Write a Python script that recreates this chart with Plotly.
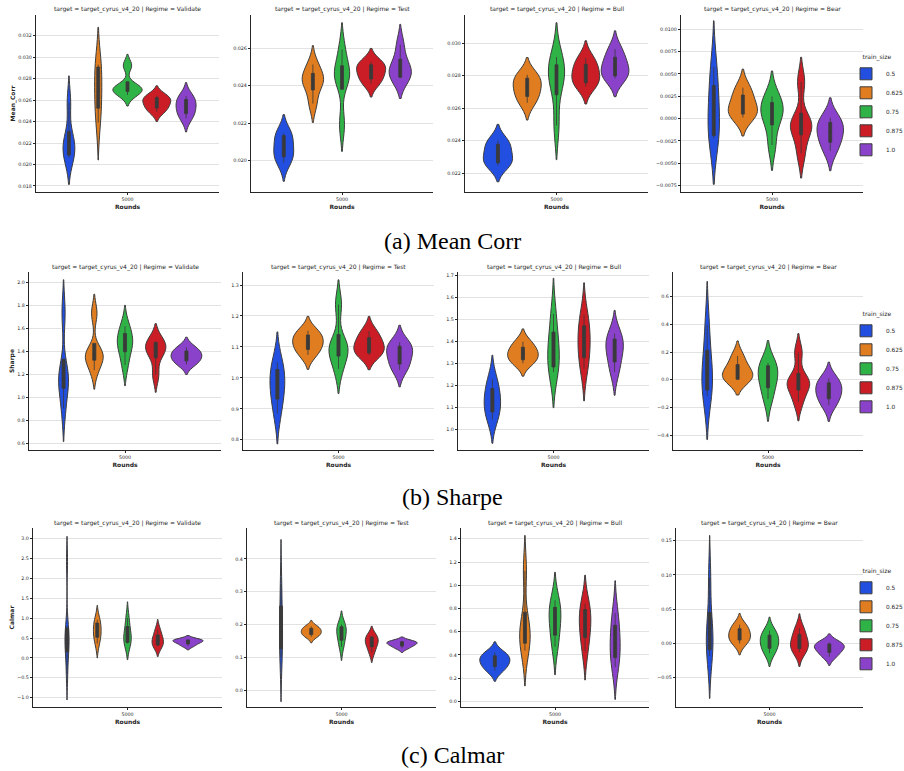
import plotly.graph_objects as go

# ---------------- data ----------------
ROUNDS = ["5000"]
TRAIN_SIZES = ["0.5", "0.625", "0.75", "0.875", "1.0"]
REGIMES = ["Validate", "Test", "Bull", "Bear"]
METRIC_LABELS = ["Mean_Corr", "Sharpe", "Calmar"]
CAPTIONS = ["(a) Mean Corr", "(b) Sharpe", "(c) Calmar"]
TARGET = "target_cyrus_v4_20"

# Mean_Corr samples per train_size (0.5, 0.625, 0.75, 0.875, 1.0)
mc_validate = [
    [0.02065, 0.02096, 0.0221, 0.0222, 0.02575],
    [0.0239, 0.0257, 0.0268, 0.0290, 0.0293],
    [0.02648, 0.02691, 0.0271, 0.0272, 0.02923],
    [0.02492, 0.02537, 0.0258, 0.02616, 0.02641],
    [0.0243, 0.02489, 0.0254, 0.02596, 0.02637],
]
mc_test = [
    [0.01989, 0.02029, 0.0206, 0.02129, 0.02144],
    [0.02304, 0.02401, 0.0243, 0.0245, 0.02513],
    [0.02191, 0.02444, 0.0245, 0.02477, 0.02594],
    [0.02411, 0.02444, 0.0248, 0.02507, 0.02527],
    [0.0244, 0.02447, 0.0249, 0.02515, 0.02619],
]
mc_bull = [
    [0.02246, 0.02269, 0.0231, 0.02369, 0.0240],
    [0.02633, 0.02685, 0.0273, 0.02778, 0.02805],
    [0.02493, 0.02745, 0.0280, 0.02851, 0.02916],
    [0.02733, 0.02765, 0.0281, 0.02857, 0.02908],
    [0.02783, 0.02803, 0.0285, 0.02897, 0.02964],
]
mc_bear = [
    [-0.0022, -0.0018, 0.0008, 0.0030, 0.0058],
    [0.00013, 0.00064, 0.0012, 0.00236, 0.00347],
    [-0.00295, 0.00005, 0.0005, 0.00157, 0.00249],
    [-0.00389, -0.00112, -0.0006, -0.00055, 0.00411],
    [-0.0036, -0.00233, -0.0015, -0.00059, 0.0001],
]

# Sharpe samples
sh_validate = [
    [0.903, 1.135, 1.16, 1.196, 1.732],
    [1.235, 1.351, 1.365, 1.38, 1.729],
    [1.281, 1.432, 1.46, 1.532, 1.617],
    [1.194, 1.391, 1.40, 1.471, 1.487],
    [1.285, 1.326, 1.36, 1.391, 1.433],
]
sh_test = [
    [0.885, 0.947, 0.975, 1.019, 1.05],
    [1.074, 1.098, 1.115, 1.134, 1.152],
    [1.029, 1.084, 1.096, 1.108, 1.237],
    [1.074, 1.083, 1.105, 1.123, 1.151],
    [1.026, 1.051, 1.08, 1.098, 1.115],
]
sh_bull = [
    [1.045, 1.09, 1.13, 1.171, 1.228],
    [1.30, 1.321, 1.345, 1.365, 1.398],
    [1.26, 1.291, 1.36, 1.414, 1.525],
    [1.275, 1.343, 1.40, 1.454, 1.52],
    [1.26, 1.322, 1.37, 1.402, 1.435],
]
sh_bear = [
    [-0.12, -0.06, 0.05, 0.152, 0.397],
    [-0.002, 0.0048, 0.05, 0.0886, 0.171],
    [-0.14, -0.032, 0.02, 0.094, 0.122],
    [-0.16, -0.047, -0.02, -0.005, 0.196],
    [-0.185, -0.123, -0.08, -0.034, 0.01],
]

# Calmar samples
ca_validate = [
    [-0.42, 0.10, 0.30, 0.45, 0.60, 0.80, 2.42],
    [0.36, 0.571, 0.65, 0.847, 0.96],
    [0.36, 0.40, 0.55, 0.715, 1.006],
    [0.29, 0.335, 0.45, 0.532, 0.71],
    [0.30, 0.37, 0.42, 0.45, 0.46],
]
ca_test = [
    [0.10, 0.136, 0.18, 0.234, 0.324],
    [0.163, 0.1718, 0.178, 0.1865, 0.194],
    [0.132, 0.159, 0.175, 0.1913, 0.20],
    [0.115, 0.1377, 0.145, 0.1619, 0.164],
    [0.128, 0.1367, 0.142, 0.1474, 0.149],
]
ca_bull = [
    [0.265, 0.312, 0.35, 0.382, 0.42],
    [0.437, 0.522, 0.62, 0.649, 1.125],
    [0.47, 0.603, 0.72, 0.789, 0.87],
    [0.43, 0.589, 0.66, 0.774, 0.84],
    [0.295, 0.404, 0.5, 0.62, 0.76],
]
ca_bear = [
    [-0.0188, -0.0065, 0.012, 0.028, 0.0958],
    [-0.0005, 0.0063, 0.012, 0.0194, 0.027],
    [-0.0145, -0.0052, 0.003, 0.0096, 0.0185],
    [-0.013, -0.006, 0.0, 0.0097, 0.022],
    [-0.0198, -0.0114, -0.007, -0.0017, 0.001],
]

# y tick values per panel
mc_validate_ticks = [0.018, 0.020, 0.022, 0.024, 0.026, 0.028, 0.030, 0.032]
mc_test_ticks = [0.020, 0.022, 0.024, 0.026]
mc_bull_ticks = [0.022, 0.024, 0.026, 0.028, 0.030]
mc_bear_ticks = [-0.0075, -0.0050, -0.0025, 0.0, 0.0025, 0.0050, 0.0075, 0.0100]
sh_validate_ticks = [0.6, 0.8, 1.0, 1.2, 1.4, 1.6, 1.8, 2.0]
sh_test_ticks = [0.8, 0.9, 1.0, 1.1, 1.2, 1.3]
sh_bull_ticks = [1.0, 1.1, 1.2, 1.3, 1.4, 1.5, 1.6, 1.7]
sh_bear_ticks = [-0.4, -0.2, 0.0, 0.2, 0.4, 0.6]
ca_validate_ticks = [-1.0, -0.5, 0.0, 0.5, 1.0, 1.5, 2.0, 2.5, 3.0]
ca_test_ticks = [0.0, 0.1, 0.2, 0.3, 0.4]
ca_bull_ticks = [0.0, 0.2, 0.4, 0.6, 0.8, 1.0, 1.2, 1.4]
ca_bear_ticks = [-0.05, 0.0, 0.05, 0.10, 0.15]

DATA = [
    [mc_validate, mc_test, mc_bull, mc_bear],
    [sh_validate, sh_test, sh_bull, sh_bear],
    [ca_validate, ca_test, ca_bull, ca_bear],
]
TICKS = [
    [mc_validate_ticks, mc_test_ticks, mc_bull_ticks, mc_bear_ticks],
    [sh_validate_ticks, sh_test_ticks, sh_bull_ticks, sh_bear_ticks],
    [ca_validate_ticks, ca_test_ticks, ca_bull_ticks, ca_bear_ticks],
]

# ---------------- layout / style ----------------
W, H = 904, 771


def fx(px):
    return px / W


def fy(py):
    return 1 - py / H


COLORS = ["#224fdf", "#df7d20", "#30b346", "#cb1d25", "#8a42cb"]
OUTLINE = "#3d3d3d"
BOXC = "#3a3a3a"
TEXT = "#262626"
GRID = "#e2e2e2"
FONT = "DejaVu Sans"

TICKFMT = [[".3f", ".3f", ".3f", ".4f"],
           [".1f", ".1f", ".1f", ".1f"],
           [".1f", ".1f", ".1f", ".2f"]]
Y_RANGES = [
    [[0.01744, 0.03393], [0.01831, 0.02778], [0.02083, 0.03174], [-0.00821, 0.0116]],
    [[0.542, 2.087], [0.767, 1.342], [0.906, 1.715], [-0.508, 0.778]],
    [[-1.236, 3.269], [-0.051, 0.494], [-0.049, 1.493], [-0.0934, 0.1687]],
]
ROW_Y = [(15, 192), (272, 450), (528, 707)]
COL_X = [
    [(36, 219), (251, 433), (465, 648), (681, 863)],
    [(29, 221), (243, 434), (458, 649), (673, 863)],
    [(33, 222), (247, 436), (461, 649), (676, 863)],
]
TITLE_Y = [9, 267, 523]
CAPTION_Y = [241, 497, 755]
LEGEND_Y = [108, 365, 622]
LEGEND_X = 846

fig = go.Figure()
layout = {}
annotations = []

for r in range(3):
    legkey = "legend" if r == 0 else f"legend{r + 1}"
    for c in range(4):
        n = r * 4 + c + 1
        sfx = "" if n == 1 else str(n)
        for k, vals in enumerate(DATA[r][c]):
            fig.add_trace(go.Violin(
                x=[ROUNDS[0]] * len(vals), y=vals,
                xaxis="x" + sfx, yaxis="y" + sfx,
                name=TRAIN_SIZES[k],
                legendgroup=f"r{r}-{TRAIN_SIZES[k]}",
                legend=legkey,
                showlegend=(c == 0),
                alignmentgroup=f"a{n}", offsetgroup=f"g{k}",
                scalegroup=f"s{n}", scalemode="width",
                spanmode="soft",
                fillcolor=COLORS[k],
                line=dict(color=OUTLINE, width=1),
                points=False,
                box=dict(visible=True, width=0.1, fillcolor=BOXC,
                         line=dict(color=BOXC, width=0.8)),
                meanline=dict(visible=False),
                hoverinfo="skip",
            ))
        x0, x1 = COL_X[r][c]
        y0, y1 = ROW_Y[r]
        layout["xaxis" + sfx] = dict(
            domain=[fx(x0), fx(x1)], anchor="y" + sfx,
            type="category", categoryorder="array", categoryarray=ROUNDS,
            range=[-0.5, 0.5],
            showline=True, linecolor=TEXT, linewidth=1.3,
            ticks="outside", ticklen=2, tickwidth=0.8, tickcolor=TEXT,
            tickfont=dict(family=FONT, size=4.8, color=TEXT),
            showgrid=False, zeroline=False,
            title=dict(text="<b>Rounds</b>", standoff=3,
                       font=dict(family=FONT, size=6, color=TEXT)),
        )
        yax = dict(
            domain=[fy(y1), fy(y0)], anchor="x" + sfx,
            range=Y_RANGES[r][c],
            tickvals=TICKS[r][c], tickformat=TICKFMT[r][c],
            showline=True, linecolor=TEXT, linewidth=1.3,
            ticks="outside", ticklen=2, tickwidth=0.8, tickcolor=TEXT,
            tickfont=dict(family=FONT, size=4.8, color=TEXT),
            showgrid=True, gridcolor=GRID, gridwidth=1.2,
            zeroline=False,
        )
        if c == 0:
            yax["title"] = dict(text=f"<b>{METRIC_LABELS[r]}</b>", standoff=2,
                                font=dict(family=FONT, size=6, color=TEXT))
        layout["yaxis" + sfx] = yax
        annotations.append(dict(
            text=f"target = {TARGET} | Regime = {REGIMES[c]}",
            x=fx((x0 + x1) / 2), y=fy(TITLE_Y[r]),
            xref="paper", yref="paper", xanchor="center", yanchor="middle",
            showarrow=False, font=dict(family=FONT, size=6, color=TEXT),
        ))
    layout[legkey] = dict(
        title=dict(text="train_size", side="top center",
                   font=dict(family=FONT, size=6, color=TEXT)),
        x=fx(LEGEND_X), xanchor="left",
        y=fy(LEGEND_Y[r]), yanchor="middle",
        font=dict(family=FONT, size=5.8, color=TEXT),
        bgcolor="rgba(0,0,0,0)", itemwidth=30, tracegroupgap=0,
    )
    annotations.append(dict(
        text=CAPTIONS[r], x=fx(452), y=fy(CAPTION_Y[r]),
        xref="paper", yref="paper", xanchor="center", yanchor="middle",
        showarrow=False, font=dict(family="Liberation Serif", size=24, color="black"),
    ))

fig.update_layout(**layout)
fig.update_layout(
    width=W, height=H,
    margin=dict(l=0, r=0, t=0, b=0, autoexpand=False),
    paper_bgcolor="white", plot_bgcolor="white",
    violinmode="group", violingap=0.2, violingroupgap=0,
    annotations=annotations,
    showlegend=True,
    font=dict(family=FONT, color=TEXT),
)

# remove the default 8px page margin so the figure fills the window exactly
fig.write_html("out.html", config={"displayModeBar": False},
               post_script="document.body.style.margin='0px';")
